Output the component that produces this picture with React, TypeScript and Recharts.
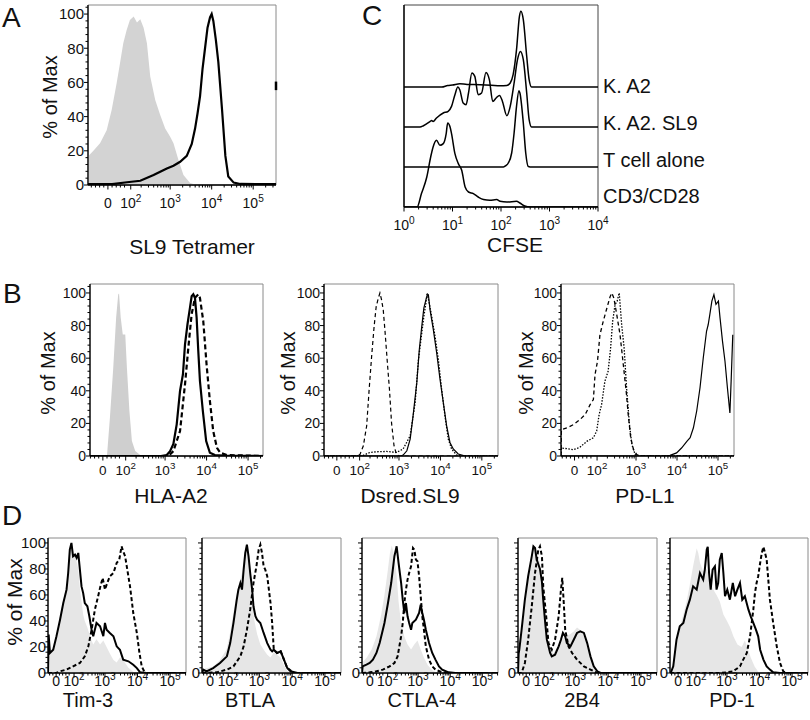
import React from 'react';
import { ComposedChart, Line, Area, XAxis, YAxis, ReferenceArea, ReferenceLine } from 'recharts';

type Pt = [number, number];

// x values: position on the display axis in decades (biexponential / log), y: % of max

// ---------- Panel A : SL9 tetramer ----------
const tetramerControl: Pt[] = [[1.02,0],[1.03,17],[1.15,20],[1.31,24.4],[1.47,32],[1.59,43.9],[1.71,59.5],[1.79,71.1],[1.87,82.9],[1.95,90.6],[2.03,96.5],[2.12,98.5],[2.2,95],[2.28,97],[2.36,92],[2.44,82.9],[2.52,63.4],[2.64,49.7],[2.76,40.9],[2.88,33.1],[3.0,28.2],[3.08,24.4],[3.2,14.6],[3.32,5.8],[3.48,1.2],[3.64,0]];
const tetramerStained: Pt[] = [[1.02,0.5],[1.6,0.5],[1.96,1.6],[2.28,2.5],[2.6,5.8],[2.76,7.8],[2.92,9.7],[3.08,11.3],[3.24,13.6],[3.4,17],[3.52,24],[3.6,33],[3.66,42],[3.72,52],[3.78,68],[3.84,80],[3.9,92],[3.96,98],[4.0,100],[4.04,96],[4.1,85],[4.16,72],[4.25,44],[4.33,17],[4.4,5],[4.53,1.4],[4.69,0.6],[5.55,0.5]];

// ---------- Panel C : CFSE (x = log10 CFSE, y = height above own track) ----------
const cfseKA2: Pt[] = [[0,0],[0.78,0],[0.9,1.5],[1.0,2],[1.15,3.3],[1.3,2.5],[1.57,2.3],[1.8,1.8],[1.98,1.2],[2.12,1.5],[2.19,4],[2.25,12.3],[2.32,37.3],[2.38,70.7],[2.41,75.7],[2.46,67.3],[2.53,30.7],[2.58,7.3],[2.63,0],[4,0]];
const cfseKA2SL9: Pt[] = [[0,0],[0.33,0],[0.4,1.3],[0.54,5.6],[0.57,6.6],[0.6,5.5],[0.67,9],[0.81,14],[0.91,15.7],[0.98,20.6],[1.05,32.3],[1.11,40],[1.15,37.3],[1.22,24],[1.28,22.3],[1.33,34],[1.4,54],[1.46,50.6],[1.53,32.3],[1.6,34],[1.69,54.6],[1.76,47.3],[1.83,25.6],[1.9,29],[1.97,31.6],[2.03,25.6],[2.12,11.3],[2.19,20.6],[2.27,44],[2.34,67.3],[2.4,75.6],[2.46,67.3],[2.53,34],[2.58,7.3],[2.63,0],[4,0]];
const cfseTcellAlone: Pt[] = [[0,0],[2.05,0],[2.1,1.3],[2.15,4],[2.22,14],[2.27,34],[2.32,60.6],[2.37,76.3],[2.39,74],[2.46,44],[2.51,14],[2.56,0.6],[2.6,0],[4,0]];
const cfseCD3CD28: Pt[] = [[0,0],[0.27,0],[0.36,13.4],[0.47,30],[0.55,50],[0.6,60],[0.67,66.7],[0.74,61.7],[0.81,63.4],[0.87,73.4],[0.9,84],[0.95,80],[0.98,73.4],[1.05,53.4],[1.12,43.4],[1.19,36.7],[1.26,20],[1.33,15],[1.43,13.4],[1.53,10],[1.64,7.4],[1.77,6.7],[1.91,7.4],[1.98,5.7],[2.12,5],[2.32,5.7],[2.39,4],[2.49,1],[2.6,0],[4,0]];
const cfseTrackNames = ['K. A2', 'K. A2. SL9', 'T cell alone', 'CD3/CD28'];
const cfseTrackBase = [120, 80, 40, 0];

// ---------- Panel B ----------
const hlaControl: Pt[] = [[1.55,0],[1.6,0.5],[1.67,23.5],[1.75,54],[1.82,85],[1.87,99],[1.89,99.6],[1.93,85],[1.98,74.6],[2.04,74.6],[2.08,54],[2.14,27.6],[2.2,9.2],[2.28,3],[2.4,0.6],[2.55,0]];
const hlaSolid: Pt[] = [[1.19,0],[2.9,0],[3.04,0.6],[3.12,3],[3.2,7.4],[3.28,19.4],[3.36,39.9],[3.43,50],[3.48,68.5],[3.54,80.8],[3.6,91],[3.64,98],[3.68,99.2],[3.72,97],[3.76,84.9],[3.8,64.4],[3.84,46],[3.91,27.6],[3.99,9.2],[4.08,2],[4.2,0.6],[4.4,0.3],[5.36,0]];
const hlaDashed: Pt[] = [[1.19,0],[3.0,0],[3.1,0.6],[3.2,3],[3.36,15.3],[3.48,44],[3.56,66.3],[3.64,87],[3.72,97],[3.8,99.2],[3.84,97],[3.92,82.8],[4.0,56],[4.08,33.7],[4.16,15.3],[4.25,5],[4.33,2],[4.49,0.6],[5.36,0]];

const dsredDashed: Pt[] = [[1.19,0],[2.0,0],[2.06,1],[2.14,6.3],[2.22,18.5],[2.28,40.9],[2.34,61.2],[2.4,79.5],[2.45,91.7],[2.5,96.7],[2.54,100],[2.58,95.7],[2.62,89.6],[2.66,77.4],[2.72,57],[2.77,40.9],[2.82,20.5],[2.88,6.3],[2.94,1],[3.0,0],[5.39,0]];
const dsredDotted: Pt[] = [[1.19,0],[2.1,0],[2.3,2.2],[2.46,2.6],[2.7,2.8],[2.94,2.2],[3.1,4.3],[3.27,12.4],[3.39,32.7],[3.47,59.1],[3.55,75.4],[3.6,85.6],[3.65,93.7],[3.68,100],[3.73,93.7],[3.79,85.6],[3.87,73.4],[3.95,59.1],[4.03,40.9],[4.11,24.6],[4.19,10.4],[4.27,4.3],[4.39,0.6],[4.5,0],[5.39,0]];
const dsredSolid: Pt[] = [[1.19,0],[3.05,0],[3.1,0.6],[3.19,3.2],[3.27,10.4],[3.34,24.6],[3.43,45],[3.49,65.2],[3.55,79.5],[3.6,90.7],[3.67,97.8],[3.71,98.8],[3.75,89.6],[3.79,83.5],[3.83,77.4],[3.91,63.2],[3.99,47.1],[4.07,32.7],[4.15,18.5],[4.23,8.3],[4.31,4.3],[4.43,1.2],[4.6,0],[5.39,0]];

const pdl1Dashed: Pt[] = [[1.17,0],[1.18,16.1],[1.31,17.2],[1.47,19.2],[1.63,22.3],[1.76,25.4],[1.88,31.5],[1.96,34.6],[2.0,49.9],[2.06,58.1],[2.12,74.4],[2.2,82.6],[2.29,90.8],[2.37,97.9],[2.41,100],[2.46,96.9],[2.53,86.7],[2.61,74.4],[2.69,56],[2.76,39.7],[2.81,25.4],[2.87,11.2],[2.94,3.9],[3.02,0.8],[3.1,0],[5.39,0]];
const pdl1Dotted: Pt[] = [[1.17,0],[1.18,4.9],[1.31,4.5],[1.47,3.9],[1.63,5.3],[1.8,9],[1.96,11.2],[2.04,15.3],[2.1,25.4],[2.16,31.5],[2.24,45.8],[2.32,52],[2.38,66.2],[2.43,82.6],[2.49,93],[2.54,95],[2.59,100],[2.65,80.5],[2.71,66.2],[2.77,41.7],[2.84,19.2],[2.9,6.9],[2.98,0.8],[3.06,0],[5.39,0]];
const pdl1Solid: Pt[] = [[1.17,0],[3.7,0],[3.83,0.4],[3.99,1.9],[4.11,4.9],[4.24,9],[4.32,11.2],[4.4,17.3],[4.48,27.6],[4.56,41.7],[4.64,60.1],[4.72,76.5],[4.76,80.5],[4.8,86.7],[4.85,95],[4.9,99],[4.95,93],[5.01,95],[5.05,84.6],[5.11,70.3],[5.17,58.1],[5.23,41.7],[5.29,26.4],[5.32,45.8],[5.36,74.4]];

// ---------- Panel D ----------
const tim3Control: Pt[] = [[1.25,0],[1.26,25],[1.31,15],[1.41,18],[1.51,28],[1.62,45],[1.72,56],[1.82,68],[1.87,80],[1.92,95],[1.97,98],[2.02,90],[2.08,92],[2.13,86],[2.18,80],[2.23,65],[2.28,55],[2.33,45],[2.38,40],[2.46,35],[2.52,30],[2.59,25],[2.64,22],[2.74,26],[2.85,22],[2.95,25],[3.05,20],[3.15,15],[3.26,10],[3.36,8],[3.46,12],[3.56,10],[3.72,4],[3.87,1],[4.0,0]];
const tim3Solid: Pt[] = [[1.25,0],[1.27,29.5],[1.31,15.4],[1.41,17.9],[1.51,28.3],[1.62,41],[1.72,53.8],[1.82,64.1],[1.87,76.9],[1.92,94.9],[1.97,100],[2.02,89.7],[2.08,91],[2.13,88.5],[2.18,92.3],[2.23,79.5],[2.28,66.6],[2.33,61.5],[2.38,53.8],[2.46,51.3],[2.52,43.6],[2.59,33.3],[2.64,28.3],[2.74,38.5],[2.85,35.9],[2.95,28.3],[3.0,38.5],[3.05,33.3],[3.15,30.8],[3.26,28.3],[3.36,20.5],[3.46,17.9],[3.56,10.3],[3.72,9],[3.87,6.4],[3.98,3.8],[4.08,0.5],[4.28,0],[5.49,0]];
const tim3Dashed: Pt[] = [[1.25,0],[1.5,0],[1.62,1.3],[1.82,2.6],[2.02,5.1],[2.23,7.7],[2.38,12.8],[2.49,20.5],[2.59,33.3],[2.69,48.7],[2.79,59],[2.86,66.6],[2.93,73.1],[3.0,64.1],[3.07,69.2],[3.15,74.4],[3.26,76.9],[3.36,84.6],[3.44,87.2],[3.51,97.4],[3.56,93.6],[3.62,89.7],[3.67,82],[3.77,66.6],[3.87,46.1],[3.98,30.7],[4.06,15.4],[4.13,5.1],[4.23,0],[5.49,0]];

const btlaControl: Pt[] = [[1.25,0],[1.29,3],[1.6,5],[1.8,10],[2.0,18],[2.1,30],[2.2,45],[2.3,60],[2.4,70],[2.5,80],[2.57,95],[2.62,100],[2.67,92],[2.72,75],[2.78,55],[2.85,40],[2.93,30],[3.03,22],[3.13,18],[3.24,14],[3.34,12],[3.44,16],[3.54,14],[3.65,12],[3.75,6],[3.85,2],[4.0,0]];
const btlaSolid: Pt[] = [[1.25,0],[1.29,2.6],[1.39,1.3],[1.59,3.8],[1.8,7.7],[2.01,12.8],[2.11,23],[2.21,38.5],[2.31,56.4],[2.36,64.1],[2.42,69.2],[2.47,64.1],[2.52,79.5],[2.57,92.3],[2.62,98.7],[2.67,89.7],[2.72,76.9],[2.78,64.1],[2.82,51.3],[2.88,43.6],[2.93,41],[3.03,38.5],[3.13,30.8],[3.24,23],[3.34,17.9],[3.39,16.7],[3.44,17.9],[3.54,15.4],[3.65,16.7],[3.75,10.3],[3.85,3.8],[3.95,1.3],[4.16,0],[5.49,0]];
const btlaDashed: Pt[] = [[1.25,0],[1.7,0.5],[2.01,2.6],[2.21,5.1],[2.42,12.8],[2.52,20.5],[2.62,33.3],[2.72,48.7],[2.82,69.2],[2.91,82],[2.98,94.9],[3.03,98.7],[3.08,92.3],[3.13,82],[3.18,79.5],[3.24,74.4],[3.34,53.8],[3.39,38.5],[3.44,17.9],[3.54,15.4],[3.65,16.7],[3.75,10.3],[3.85,3.8],[4.06,0],[5.49,0]];

const ctla4Control: Pt[] = [[1.25,0],[1.26,8],[1.4,12],[1.55,18],[1.7,28],[1.85,45],[1.95,60],[2.05,78],[2.12,92],[2.18,98],[2.26,90],[2.33,75],[2.39,55],[2.47,38],[2.57,28],[2.67,22],[2.78,18],[2.88,22],[2.98,25],[3.08,18],[3.18,12],[3.3,6],[3.45,2],[3.6,0]];
const ctla4Solid: Pt[] = [[1.25,0],[1.27,5.1],[1.39,6.4],[1.49,7.7],[1.59,10.3],[1.7,15.4],[1.8,23],[1.9,33.3],[1.95,38.5],[2.06,53.8],[2.16,69.2],[2.26,89.7],[2.33,97.4],[2.39,84.6],[2.47,69.2],[2.52,56.4],[2.57,46.1],[2.62,53.8],[2.67,43.6],[2.72,38.5],[2.78,33.3],[2.82,38.5],[2.93,41],[3.03,46.1],[3.08,52.5],[3.13,46.1],[3.18,41],[3.24,33.3],[3.34,23],[3.44,15.4],[3.54,10.3],[3.65,5.1],[3.75,2.6],[3.95,0.5],[4.16,0],[5.49,0]];
const ctla4Dashed: Pt[] = [[1.25,0],[1.49,0.5],[1.7,1.3],[1.9,2.6],[2.11,5.1],[2.26,7.7],[2.36,12.8],[2.47,28.3],[2.52,38.5],[2.57,53.8],[2.62,64.1],[2.67,71.8],[2.72,76.9],[2.78,82],[2.84,96.1],[2.88,94.9],[2.93,87.2],[2.98,85.9],[3.03,74.4],[3.08,59],[3.13,43.6],[3.18,33.3],[3.24,20.5],[3.34,10.3],[3.44,5.1],[3.54,2.6],[3.75,0.5],[3.95,0],[5.49,0]];

const b2b4Control: Pt[] = [[1.25,0],[1.27,10],[1.36,30],[1.46,50],[1.56,70],[1.67,85],[1.75,95],[1.82,92],[1.92,85],[1.98,70],[2.05,50],[2.13,30],[2.23,18],[2.33,15],[2.45,20],[2.56,25],[2.7,28],[2.85,30],[2.95,32],[3.05,35],[3.15,33],[3.26,28],[3.36,20],[3.46,12],[3.56,5],[3.7,0]];
const b2b4Solid: Pt[] = [[1.25,0],[1.27,15],[1.29,17.9],[1.36,33.3],[1.46,56.4],[1.56,74.4],[1.67,89.7],[1.72,97.4],[1.77,96.1],[1.82,87.2],[1.92,80],[1.98,70],[2.02,56],[2.08,38.5],[2.13,25.6],[2.18,20.5],[2.23,15.4],[2.28,12.8],[2.38,14.1],[2.49,20.5],[2.56,25.6],[2.62,30.8],[2.69,28.2],[2.74,23],[2.85,20.5],[2.95,25.6],[3.05,30.8],[3.15,32],[3.26,30.8],[3.36,23],[3.46,12.8],[3.56,5.1],[3.67,1.3],[3.77,0],[5.49,0]];
const b2b4Dashed: Pt[] = [[1.25,0],[1.36,0],[1.46,7.7],[1.56,25.6],[1.67,51.3],[1.77,76.9],[1.87,94.9],[1.92,97.4],[1.98,89.7],[2.02,66.6],[2.11,43.6],[2.18,23],[2.28,17.9],[2.38,25.6],[2.49,43.6],[2.56,64.1],[2.6,73.1],[2.64,56.4],[2.69,33.3],[2.79,20.5],[2.9,15.4],[3.05,10.3],[3.26,5.1],[3.46,2.6],[3.67,0],[5.49,0]];

const pd1Control: Pt[] = [[1.25,0],[1.27,0],[1.35,8],[1.45,25],[1.55,35],[1.66,45],[1.76,55],[1.86,68],[1.96,82],[2.07,96],[2.12,92],[2.17,85],[2.27,78],[2.38,80],[2.45,75],[2.56,65],[2.68,60],[2.78,55],[2.89,45],[3.0,40],[3.1,35],[3.2,28],[3.32,22],[3.45,20],[3.55,25],[3.62,20],[3.73,12],[3.85,5],[3.96,1],[4.05,0]];
const pd1Solid: Pt[] = [[1.25,0],[1.27,0],[1.35,5.1],[1.45,25.6],[1.55,35.9],[1.66,38.5],[1.76,48.7],[1.86,56.4],[1.96,66.6],[2.07,64.1],[2.17,76.9],[2.27,71.8],[2.32,79.5],[2.38,94.9],[2.41,97],[2.45,76.9],[2.5,64.1],[2.56,79.5],[2.63,82],[2.68,64.1],[2.73,69.2],[2.78,87.2],[2.84,92.3],[2.89,76.9],[2.94,59],[3.01,64.1],[3.09,56.4],[3.18,69.2],[3.25,59],[3.32,64.1],[3.4,69.2],[3.47,56.4],[3.55,59],[3.66,48.7],[3.73,43.6],[3.81,38.5],[3.89,33.3],[3.96,28.2],[4.02,17.9],[4.12,10.3],[4.22,5.1],[4.32,2.6],[4.42,0.5],[4.63,0],[5.49,0]];
const pd1Dashed: Pt[] = [[1.25,0],[2.8,0],[2.99,0.5],[3.19,1.3],[3.4,5.1],[3.5,10.3],[3.61,15.4],[3.71,28.2],[3.81,48.7],[3.86,61.5],[3.91,69.2],[3.96,74.4],[4.02,84.6],[4.07,92.3],[4.12,97],[4.17,92.3],[4.22,87.2],[4.27,71.8],[4.32,56.4],[4.42,38.5],[4.53,20.5],[4.63,7.7],[4.73,1.3],[4.84,0],[5.49,0]];

// ---------- Axis labels ----------
const biexLabels = [
  { v: 1.5, t: '0' },
  { v: 2.05, t: '10', s: '2' },
  { v: 3, t: '10', s: '3' },
  { v: 4, t: '10', s: '4' },
  { v: 5, t: '10', s: '5' },
];
const logLabels = [
  { v: 0, t: '10', s: '0' },
  { v: 1, t: '10', s: '1' },
  { v: 2, t: '10', s: '2' },
  { v: 3, t: '10', s: '3' },
  { v: 4, t: '10', s: '4' },
];
const yMajor = [0, 20, 40, 60, 80, 100];

const FONT = "'Liberation Sans', Arial, Helvetica, sans-serif";

const rows = (pts: Pt[], off = 0) => pts.map(([x, y]) => ({ x, y: y + off }));

function biexTicks(lo: number, hi: number) {
  const minor: number[] = [];
  [1.1, 1.2, 1.3, 1.4, 1.6, 1.7, 1.8, 1.9].forEach((v) => { if (v > lo && v < hi) minor.push(v); });
  for (let n = 2; n < 6; n++) for (let k = 2; k <= 9; k++) { const v = n + Math.log10(k); if (v < hi) minor.push(v); }
  return [...biexLabels.map((l) => l.v), ...minor].sort((a, b) => a - b);
}
function logTicks(lo: number, hi: number) {
  const minor: number[] = [];
  for (let n = Math.floor(lo); n < hi; n++) for (let k = 2; k <= 9; k++) { const v = n + Math.log10(k); if (v > lo && v < hi) minor.push(v); }
  return [...logLabels.map((l) => l.v), ...minor].sort((a, b) => a - b);
}
function yTicksFor(hi: number) {
  const t: number[] = [];
  for (let v = 0; v <= hi; v += 4) t.push(v);
  yMajor.forEach((m) => { if (!t.includes(m)) t.push(m); });
  return t.sort((a, b) => a - b);
}

const renderXTick = (p: any, labels: any[], font: number, dy: number) => {
  const { x, y, payload } = p;
  const lab = labels.find((l) => Math.abs(l.v - payload.value) < 1e-6);
  return (
    <g>
      <line x1={x} x2={x} y1={y} y2={y + (lab ? 4.5 : 2.5)} stroke="#000" strokeWidth={1} />
      {lab && (
        <text x={x} y={y + dy} textAnchor="middle" fontSize={font} fontFamily={FONT} fill="#111">
          {lab.t}
          {lab.s && <tspan dy={-font * 0.42} fontSize={font * 0.72}>{lab.s}</tspan>}
        </text>
      )}
    </g>
  );
};

const renderYTick = (p: any, mode: string, font: number, gap: number) => {
  const { x, y, payload } = p;
  const v = payload.value;
  const major = v % 20 === 0;
  const show = major && (mode === 'all' || (mode === 'zero' && v === 0));
  return (
    <g>
      <line x1={x} x2={x - (major ? 4 : 2.5)} y1={y} y2={y} stroke="#000" strokeWidth={1} />
      {show && (
        <text x={x - gap} y={y + font * 0.36} textAnchor="end" fontSize={font} fontFamily={FONT} fill="#111">{v}</text>
      )}
    </g>
  );
};

type Ser = { pts: Pt[]; area?: boolean; fill?: string; width?: number; dash?: string; curve?: any; off?: number };

function FlowPanel(props: any) {
  const { box, xDomain, yDomain, xKind = 'biex', xFont = 13, xDy = 19, yFont = 14, yGap = 4, yLabels = 'all', series, frame = '#8a8a8a', extra, noY } = props;
  const ML = 60, MT = 12, MR = 26, MB = 40;
  const w = box[2] - box[0];
  const h = box[3] - box[1];
  const xt = xKind === 'log' ? logTicks(xDomain[0], xDomain[1]) : biexTicks(xDomain[0], xDomain[1]);
  const labs = xKind === 'log' ? logLabels : biexLabels;
  return (
    <div style={{ position: 'absolute', left: box[0] - ML, top: box[1] - MT }}>
      <ComposedChart width={w + ML + MR} height={h + MT + MB} margin={{ top: MT, right: MR, left: 0, bottom: 0 }}>
        <ReferenceArea x1={xDomain[0]} x2={xDomain[1]} y1={yDomain[0]} y2={yDomain[1]} fill="#fff" fillOpacity={0} stroke={frame} strokeWidth={1} ifOverflow="visible" />
        {series.map((s: Ser, i: number) =>
          s.area ? (
            <Area key={i} data={rows(s.pts, s.off)} dataKey="y" type="linear" fill={s.fill} fillOpacity={1} stroke="none" dot={false} activeDot={false} isAnimationActive={false} />
          ) : (
            <Line key={i} data={rows(s.pts, s.off)} dataKey="y" type={s.curve || 'linear'} stroke="#000" strokeWidth={s.width || 2} strokeDasharray={s.dash} dot={false} activeDot={false} isAnimationActive={false} />
          )
        )}
        <XAxis type="number" dataKey="x" domain={xDomain} allowDataOverflow ticks={xt} interval={0} tickSize={0} tickMargin={0} tickLine={false} height={MB} axisLine={{ stroke: '#000', strokeWidth: 1.3 }} tick={(p: any) => renderXTick(p, labs, xFont, xDy)} />
        <YAxis type="number" dataKey="y" domain={yDomain} allowDataOverflow ticks={noY ? [] : yTicksFor(yDomain[1])} interval={0} tickSize={0} tickMargin={0} tickLine={false} width={ML} axisLine={{ stroke: '#000', strokeWidth: 1.3 }} tick={noY ? false : (p: any) => renderYTick(p, yLabels, yFont, yGap)} />
        {extra}
      </ComposedChart>
    </div>
  );
}

const G_A = '#d3d3d3';
const G_B = '#cfcfcf';
const G_D = '#e6e6e6';

const dBoxes = [
  [48, 538, 186, 673],
  [202, 538, 341, 673],
  [362, 538, 498, 673],
  [518, 538, 657, 673],
  [670, 538, 808, 673],
];
const dSets: Pt[][][] = [
  [tim3Control, tim3Solid, tim3Dashed],
  [btlaControl, btlaSolid, btlaDashed],
  [ctla4Control, ctla4Solid, ctla4Dashed],
  [b2b4Control, b2b4Solid, b2b4Dashed],
  [pd1Control, pd1Solid, pd1Dashed],
];
const dNames = ['Tim-3', 'BTLA', 'CTLA-4', '2B4', 'PD-1'];
const dNameX = [88, 250, 422, 582, 732];

export default function App() {
  const T = (x: number, y: number, s: string, size: number, anchor = 'start') => (
    <text x={x} y={y} fontSize={size} fontFamily={FONT} textAnchor={anchor as any} fill="#111">{s}</text>
  );
  const V = (x: number, y: number, s: string, size: number) => (
    <text x={x} y={y} fontSize={size} fontFamily={FONT} textAnchor="middle" fill="#111" transform={`rotate(-90 ${x} ${y})`}>{s}</text>
  );
  return (
    <div style={{ position: 'absolute', left: 0, top: 0, width: 810, height: 720, overflow: 'hidden', background: '#fff' }}>
      {/* A */}
      <FlowPanel box={[88, 5, 276, 185]} xDomain={[1.02, 5.55]} yDomain={[0, 105.3]} xFont={14} xDy={23} yFont={15} yGap={4}
        series={[{ pts: tetramerControl, area: true, fill: G_A }, { pts: tetramerStained, width: 2.2 }]}
        extra={<ReferenceLine segment={[{ x: 5.55, y: 55.5 }, { x: 5.55, y: 60.5 }]} stroke="#000" strokeWidth={2.5} ifOverflow="visible" />} />
      {/* C */}
      <FlowPanel box={[404, 5, 598, 207]} xDomain={[0, 4]} yDomain={[0, 202]} xKind="log" xFont={14} xDy={23} noY frame="#444"
        series={[
          { pts: cfseKA2, off: cfseTrackBase[0], width: 1.5, curve: 'monotone' },
          { pts: cfseKA2SL9, off: cfseTrackBase[1], width: 1.5, curve: 'monotone' },
          { pts: cfseTcellAlone, off: cfseTrackBase[2], width: 1.5, curve: 'monotone' },
          { pts: cfseCD3CD28, off: cfseTrackBase[3], width: 1.5, curve: 'monotone' },
        ]} />
      {/* B */}
      <FlowPanel box={[90, 284, 263, 456]} xDomain={[1.19, 5.36]} yDomain={[0, 105.5]} xFont={13.5} xDy={19} yFont={14}
        series={[{ pts: hlaControl, area: true, fill: G_B }, { pts: hlaSolid, width: 2.2 }, { pts: hlaDashed, width: 2.2, dash: '5 3' }]} />
      <FlowPanel box={[324, 284, 498, 456]} xDomain={[1.19, 5.39]} yDomain={[0, 105.5]} xFont={13.5} xDy={19} yFont={14}
        series={[{ pts: dsredDashed, width: 1.2, dash: '4 3' }, { pts: dsredDotted, width: 1.3, dash: '1.5 1.5' }, { pts: dsredSolid, width: 1.2 }]} />
      <FlowPanel box={[561, 284, 734, 456]} xDomain={[1.17, 5.39]} yDomain={[0, 105.5]} xFont={13.5} xDy={19} yFont={14}
        series={[{ pts: pdl1Dashed, width: 1.3, dash: '4 3' }, { pts: pdl1Dotted, width: 1.3, dash: '1.5 1.5' }, { pts: pdl1Solid, width: 1.2 }]} />
      {/* D */}
      {dBoxes.map((b, i) => (
        <FlowPanel key={i} box={b} xDomain={[1.25, 5.49]} yDomain={[0, 103.8]} xFont={14} xDy={12.5} yFont={15} yGap={2} yLabels={i === 0 ? 'all' : 'zero'}
          series={[{ pts: dSets[i][0], area: true, fill: G_D }, { pts: dSets[i][1], width: 2 }, { pts: dSets[i][2], width: 2, dash: '4 2.5' }]} />
      ))}
      <svg width={810} height={720} style={{ position: 'absolute', left: 0, top: 0, pointerEvents: 'none' }}>
        {T(2, 27, 'A', 28)}
        {T(362, 25, 'C', 28)}
        {T(3, 303, 'B', 28)}
        {T(2, 525, 'D', 28)}
        {V(57, 97, '% of Max', 20)}
        {V(55, 373, '% of Max', 20)}
        {V(295, 373, '% of Max', 20)}
        {V(533, 373, '% of Max', 20)}
        {V(22, 602, '% of Max', 21)}
        {T(192, 254, 'SL9 Tetramer', 21, 'middle')}
        {T(515, 252, 'CFSE', 21, 'middle')}
        {T(171, 503, 'HLA-A2', 21, 'middle')}
        {T(410, 503, 'Dsred.SL9', 21, 'middle')}
        {T(645, 503, 'PD-L1', 21, 'middle')}
        {cfseTrackNames.map((n, i) => <React.Fragment key={n}>{T(603, [93, 130, 167, 203][i], n, 20)}</React.Fragment>)}
        {dNames.map((n, i) => <React.Fragment key={n}>{T(dNameX[i], 707, n, 20, 'middle')}</React.Fragment>)}
      </svg>
    </div>
  );
}
